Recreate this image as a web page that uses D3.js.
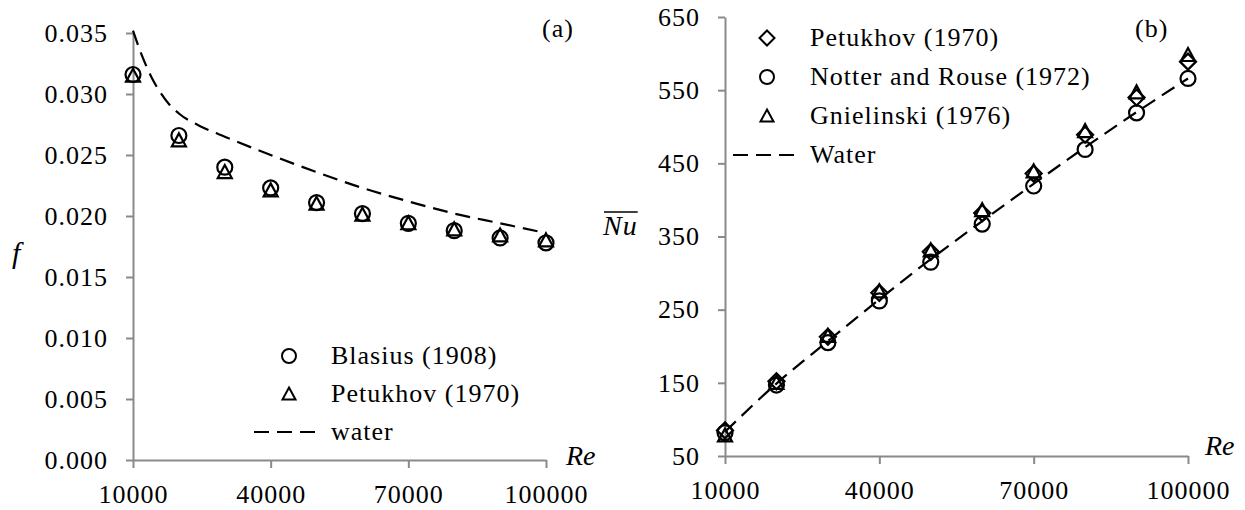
<!DOCTYPE html>
<html>
<head>
<meta charset="utf-8">
<script src="https://cdn.jsdelivr.net/npm/d3@7"></script>
<style>
  body { margin: 0; background: #fff; }
  text { font-family: "Liberation Serif", "Times New Roman", serif; fill: #000; }
</style>
</head>
<body>
<svg id="chart"></svg>
<script>
// Reynolds numbers used for the correlations
const reValues = [10000, 20000, 30000, 40000, 50000, 60000, 70000, 80000, 90000, 100000];
const xTicks = [10000, 40000, 70000, 100000];

// (a) friction factor
const fBlasius = [0.0316, 0.0266, 0.0240, 0.0223, 0.0211, 0.0202, 0.0194, 0.0188, 0.0182, 0.0178];
const fPetukhov = [0.0315, 0.0262, 0.0236, 0.0221, 0.0210, 0.0201, 0.0194, 0.0189, 0.0184, 0.0180];
const waterRe = [10000, 12000, 14000, 16000, 18000, 20000, 25000, 30000, 40000, 50000, 60000, 70000, 80000, 90000, 100000];
const waterF = [0.0352, 0.0331, 0.0314, 0.0301, 0.0291, 0.0284, 0.0273, 0.0265, 0.0250, 0.0236, 0.0223, 0.0212, 0.0202, 0.0194, 0.0186];
const fTicks = [0, 0.005, 0.010, 0.015, 0.020, 0.025, 0.030, 0.035];

// (b) Nusselt number
const nuPetukhov = [85, 152, 213, 273, 329, 382, 436, 489, 540, 589];
const nuNotter = [82, 147, 205, 262, 315, 367, 419, 469, 519, 566];
const nuGnielinski = [78, 150, 214, 275, 331, 386, 439, 494, 547, 598];
const nuWater = [83, 149, 207, 264, 319, 371, 422, 472, 520, 566];
const nuTicks = [50, 150, 250, 350, 450, 550, 650];

const width = 1245, height = 510;
const axisColor = '#8a8a8a';

const svg = d3.select('#chart')
  .attr('width', width)
  .attr('height', height);

svg.append('rect').attr('width', width).attr('height', height).attr('fill', '#fff');

// marker shapes, centred on 0,0
function markerPath(type, s) {
  if (type === 'circle') {
    return `M${s},0A${s},${s} 0 1,1 ${-s},0A${s},${s} 0 1,1 ${s},0Z`;
  }
  if (type === 'triangle') {
    return `M0,${-s}L${s},${s * 0.85}L${-s},${s * 0.85}Z`;
  }
  // diamond
  return `M0,${-s}L${s},0L0,${s}L${-s},0Z`;
}

function drawAxes(g, x, y, yTicks, yFormat) {
  const yAxis = d3.axisLeft(y)
    .tickValues(yTicks)
    .tickFormat(yFormat)
    .tickSize(7)
    .tickSizeOuter(0)
    .tickPadding(18);

  const xAxis = d3.axisBottom(x)
    .tickValues(xTicks)
    .tickFormat(d3.format('d'))
    .tickSize(8)
    .tickSizeOuter(0)
    .tickPadding(17);

  const yG = g.append('g')
    .attr('transform', `translate(${x.range()[0]},0)`)
    .call(yAxis);

  const xG = g.append('g')
    .attr('transform', `translate(0,${y.range()[0]})`)
    .call(xAxis);

  [yG, xG].forEach(a => {
    a.attr('color', axisColor);
    a.selectAll('path, line').attr('stroke-width', 2);
    a.selectAll('text')
      .attr('fill', '#000')
      .style('font-size', '26px')
      .style('letter-spacing', '1px');
  });
}

function drawMarkers(g, x, y, xs, ys, type, size) {
  g.append('g')
    .selectAll('path')
    .data(xs.map((d, i) => [d, ys[i]]))
    .join('path')
    .attr('transform', d => `translate(${x(d[0])},${y(d[1])})`)
    .attr('d', markerPath(type, size))
    .attr('fill', 'none')
    .attr('stroke', '#000')
    .attr('stroke-width', 2.2);
}

function drawWater(g, x, y, xs, ys) {
  const line = d3.line()
    .x(d => x(d[0]))
    .y(d => y(d[1]))
    .curve(d3.curveMonotoneX);

  g.append('path')
    .datum(xs.map((d, i) => [d, ys[i]]))
    .attr('d', line)
    .attr('fill', 'none')
    .attr('stroke', '#000')
    .attr('stroke-width', 2.2)
    .attr('stroke-dasharray', '15,8');
}

function legendItem(g, lx, tx, baseline, type, size, label) {
  if (type === 'dash') {
    g.append('line')
      .attr('x1', lx[0]).attr('x2', lx[1])
      .attr('y1', baseline - 8).attr('y2', baseline - 8)
      .attr('stroke', '#000')
      .attr('stroke-width', 2.2)
      .attr('stroke-dasharray', '15,8');
  } else {
    g.append('path')
      .attr('transform', `translate(${lx},${baseline - 8})`)
      .attr('d', markerPath(type, size))
      .attr('fill', 'none')
      .attr('stroke', '#000')
      .attr('stroke-width', 2);
  }
  g.append('text')
    .attr('x', tx)
    .attr('y', baseline)
    .style('font-size', '26px')
    .style('letter-spacing', '1px')
    .text(label);
}

// ---------- panel (a) ----------
const ga = svg.append('g');
const xa = d3.scaleLinear().domain([10000, 100000]).range([133, 546]);
const ya = d3.scaleLinear().domain([0, 0.035]).range([460, 33]);

drawAxes(ga, xa, ya, fTicks, d3.format('.3f'));
drawWater(ga, xa, ya, waterRe, waterF);
drawMarkers(ga, xa, ya, reValues, fBlasius, 'circle', 7.5);
drawMarkers(ga, xa, ya, reValues, fPetukhov, 'triangle', 7);

legendItem(ga, 289, 331, 364, 'circle', 7, 'Blasius (1908)');
legendItem(ga, 289, 331, 402, 'triangle', 6.5, 'Petukhov (1970)');
legendItem(ga, [254, 323], 331, 440, 'dash', 0, 'water');

ga.append('text')
  .attr('x', 12).attr('y', 263)
  .style('font-size', '30px').style('font-style', 'italic')
  .text('f');
ga.append('text')
  .attr('x', 566).attr('y', 465)
  .style('font-size', '28px').style('font-style', 'italic')
  .text('Re');
ga.append('text')
  .attr('x', 542).attr('y', 37)
  .style('font-size', '26px').style('letter-spacing', '1px')
  .text('(a)');

// ---------- panel (b) ----------
const gb = svg.append('g');
const xb = d3.scaleLinear().domain([10000, 100000]).range([725, 1188]);
const yb = d3.scaleLinear().domain([50, 650]).range([456, 17]);

drawAxes(gb, xb, yb, nuTicks, d3.format('d'));
drawWater(gb, xb, yb, reValues, nuWater);
drawMarkers(gb, xb, yb, reValues, nuPetukhov, 'diamond', 8);
drawMarkers(gb, xb, yb, reValues, nuNotter, 'circle', 7.5);
drawMarkers(gb, xb, yb, reValues, nuGnielinski, 'triangle', 7);

legendItem(gb, 767, 810, 46, 'diamond', 7.5, 'Petukhov (1970)');
legendItem(gb, 767, 810, 85, 'circle', 7, 'Notter and Rouse (1972)');
legendItem(gb, 767, 810, 124, 'triangle', 6.5, 'Gnielinski (1976)');
legendItem(gb, [733, 801], 810, 163, 'dash', 0, 'Water');

const nuLabel = gb.append('text')
  .attr('x', 603).attr('y', 235)
  .style('font-size', '28px').style('font-style', 'italic')
  .style('letter-spacing', '1px')
  .text('Nu');
const nb = nuLabel.node().getBBox();
gb.append('line')
  .attr('x1', nb.x + 2).attr('x2', nb.x + nb.width)
  .attr('y1', 212).attr('y2', 212)
  .attr('stroke', '#000').attr('stroke-width', 1.5);

gb.append('text')
  .attr('x', 1205).attr('y', 455)
  .style('font-size', '28px').style('font-style', 'italic')
  .text('Re');
gb.append('text')
  .attr('x', 1135).attr('y', 37)
  .style('font-size', '26px').style('letter-spacing', '1px')
  .text('(b)');
</script>
</body>
</html>
